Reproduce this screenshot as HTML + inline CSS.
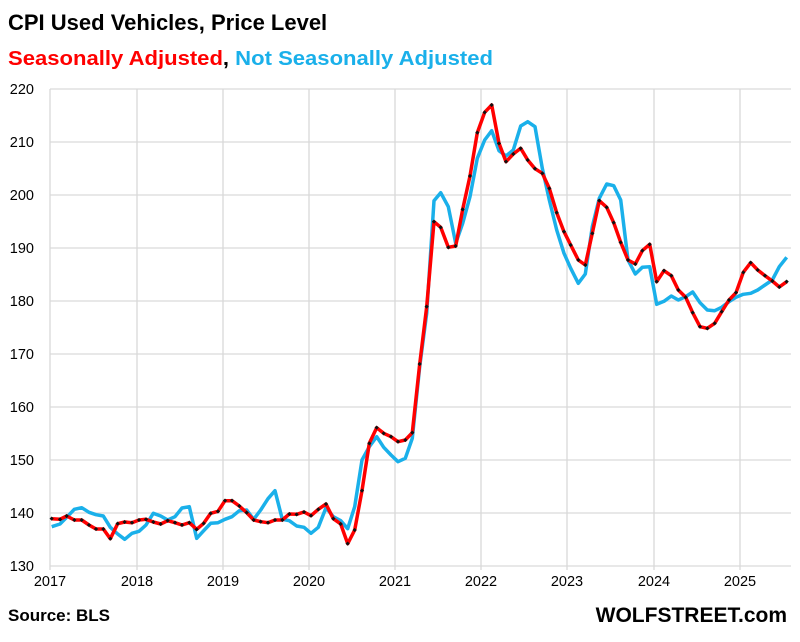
<!DOCTYPE html>
<html><head><meta charset="utf-8"><style>
body{margin:0;background:#fff;width:800px;height:637px;overflow:hidden;font-family:"Liberation Sans",Arial,sans-serif}
</style></head><body>
<svg id="s" width="800" height="637" xmlns="http://www.w3.org/2000/svg" font-family="Liberation Sans, Arial, sans-serif">
<text x="8" y="30" font-size="22" font-weight="bold" fill="#000">CPI Used Vehicles, Price Level</text>
<text x="8" y="65" font-size="20" font-weight="bold" textLength="485" lengthAdjust="spacingAndGlyphs"><tspan fill="#f00">Seasonally Adjusted</tspan><tspan fill="#000">, </tspan><tspan fill="#1ab0ea">Not Seasonally Adjusted</tspan></text>
<g id="grid" stroke="#d9d9d9" stroke-width="1.3"></g>
<g id="lab" font-size="14.5" fill="#000"></g>
<polyline id="b" fill="none" stroke="#1ab0ea" stroke-width="3.5" stroke-linejoin="round"/>
<polyline id="r" fill="none" stroke="#f00" stroke-width="3.5" stroke-linejoin="round"/>
<g id="d" fill="#111"></g>
<text x="8" y="621" font-size="17" font-weight="bold">Source: BLS</text>
<text x="787" y="622" font-size="21" font-weight="bold" text-anchor="end">WOLFSTREET.com</text>
</svg>
<script>
var NS="http://www.w3.org/2000/svg";
function el(p,t,a,txt){var e=document.createElementNS(NS,t);for(var k in a)e.setAttribute(k,a[k]);if(txt)e.textContent=txt;document.getElementById(p).appendChild(e);}
for(var i=0;i<=9;i++){var y=89+i*53;el("grid","line",{x1:50,x2:791,y1:y,y2:y});el("lab","text",{x:34,y:y+5,"text-anchor":"end"},String(220-i*10));}
var gx=[50,137,223,309,395,481,567,654,740];
for(var i=0;i<gx.length;i++){el("grid","line",{x1:gx[i],x2:gx[i],y1:89,y2:570});el("lab","text",{x:gx[i],y:586,"text-anchor":"middle"},String(2017+i));}
var r1=[[35,1316],[60,1318],[80,1308],[103,1320],[125,1320],[147,1335],[168,1347],[190,1347],[211,1376],[233,1331],[254,1326],[276,1328],[297,1320],[318,1318],[340,1326],[362,1332],[383,1322],[405,1328],[426,1335],[448,1328],[470,1348],[491,1330],[512,1300],[534,1294],[555,1262],[576,1262],[598,1278],[620,1298],[641,1320],[662,1325],[684,1328],[705,1320],[727,1320],[748,1302],[770,1303],[792,1296],[813,1307],[835,1288],[858,1272],[880,1316],[902,1332],[923,1391],[944,1350],[966,1232],[988,1090],[1010,1043],[1031,1060],[1053,1070],[1074,1085],[1096,1080],[1117,1058],[1139,852],[1160,680]];
var r2=[[102,425],[122,442],[145,502],[167,498],[188,388],[210,288],[232,158],[254,97],[275,75],[297,190],[318,245],[340,222],[362,205],[383,240],[405,266],[427,280],[448,325],[470,398],[492,455],[512,495],[535,540],[556,555],[577,460],[598,362],[620,382],[641,428],[662,487],[684,540],[706,552],[727,512],[749,493],[770,605],[792,572],[814,587],[835,630],[857,652],[878,698],[900,740],[922,745],[944,730],[965,695],[987,660],[1008,638],[1030,577],[1052,548],[1073,570],[1095,587],[1117,603],[1138,621],[1160,605]];
var b1=[[35,1340],[60,1332],[80,1312],[103,1288],[125,1283],[147,1297],[168,1304],[190,1308],[211,1342],[233,1362],[254,1378],[276,1360],[297,1354],[318,1335],[340,1300],[362,1308],[383,1320],[405,1310],[426,1284],[448,1280],[470,1375],[491,1352],[512,1330],[534,1328],[555,1318],[576,1310],[598,1292],[620,1290],[641,1318],[662,1290],[684,1256],[705,1232],[727,1318],[748,1322],[770,1338],[792,1342],[813,1360],[835,1342],[858,1283],[880,1310],[902,1322],[923,1346],[944,1280],[966,1140],[988,1100],[1010,1070],[1031,1102],[1053,1125],[1074,1145],[1096,1135],[1117,1075],[1139,860],[1160,700]];
var b2=[[102,362],[122,338],[145,380],[167,490],[188,430],[210,350],[232,235],[254,180],[275,152],[297,212],[318,228],[340,210],[362,138],[383,125],[405,140],[427,265],[448,360],[470,450],[492,520],[512,565],[535,610],[556,582],[577,440],[598,355],[620,312],[641,317],[662,360],[684,540],[706,582],[727,562],[749,560],[770,673],[792,664],[814,648],[835,660],[857,650],[878,636],[900,668],[922,690],[944,692],[965,682],[987,665],[1008,652],[1030,643],[1052,640],[1073,630],[1095,615],[1117,600],[1138,560],[1160,532]];
function conv(a,ox){return a.map(function(p){return [ox+p[0]/3,80+p[1]/3];});}
var R=conv(r1,40).concat(conv(r2,400)),B=conv(b1,40).concat(conv(b2,400));
function pts(a){return a.map(function(p){return p[0].toFixed(1)+","+p[1].toFixed(1);}).join(" ");}
document.getElementById("r").setAttribute("points",pts(R));
document.getElementById("b").setAttribute("points",pts(B));
R.forEach(function(p){el("d","rect",{x:p[0]-1.5,y:p[1]-1.5,width:3,height:3,transform:"rotate(45 "+p[0]+" "+p[1]+")"});});
</script>
</body></html>
